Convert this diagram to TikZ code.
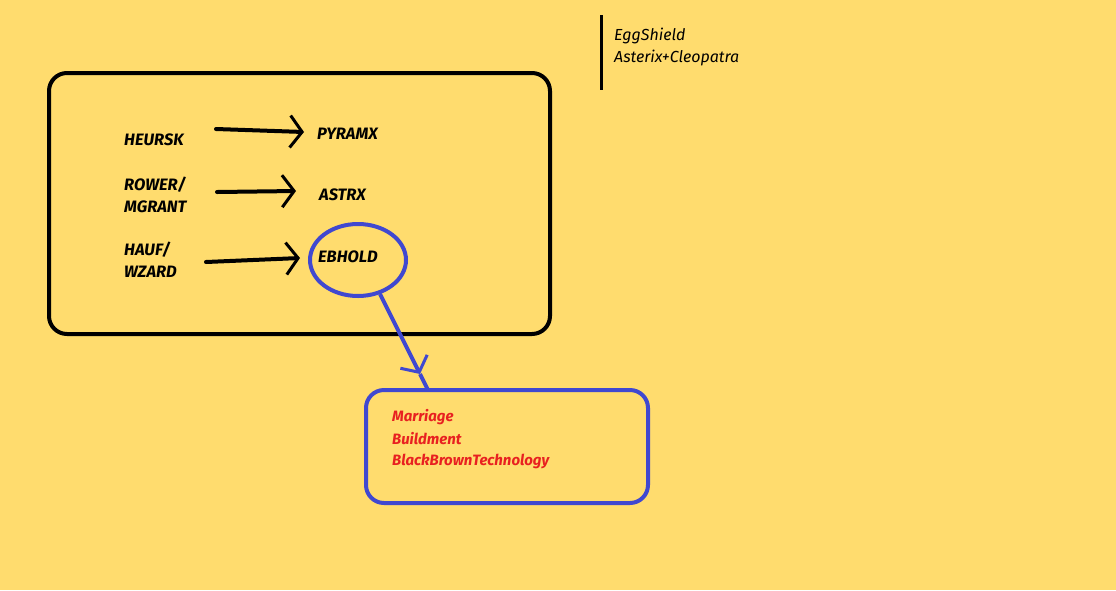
\documentclass[tikz,border=0pt]{standalone}
\usepackage{fontspec}
\setmainfont{Fira Sans}
\usetikzlibrary{arrows.meta,shapes.geometric}
\definecolor{bg}{RGB}{255,220,110}
\definecolor{pen}{RGB}{64,72,208}
\definecolor{redtxt}{RGB}{232,32,32}
\tikzset{
  lbl/.style={anchor=west,inner sep=0pt,font=\fontsize{16.5}{18}\selectfont\bfseries\itshape},
  note/.style={anchor=west,inner sep=0pt,font=\fontsize{16}{18}\selectfont\itshape},
  rednote/.style={anchor=west,inner sep=0pt,text=redtxt,font=\fontsize{15}{18}\selectfont\bfseries\itshape},
  blackarrow/.style={line width=4pt,line cap=round,-{Straight Barb[length=12pt,width=32pt,line width=3pt]}},
  box/.style={rounded corners=18pt,line width=4pt},
}
\begin{document}
\begin{tikzpicture}[x=1pt,y=-1pt]
\useasboundingbox (0,0) rectangle (1116,590);
\fill[bg] (0,0) rectangle (1116,590);
% header
\draw[line width=3pt] (601,15) coordinate (vt) -- (601,90) coordinate (vb);
\node[note] (egg) at (614,36) {EggShield};
\node[note] (ast) at (614,58) {Asterix+Cleopatra};
% main box
\draw[box] (49,73) rectangle (550,334);
\node[lbl] (heursk) at (124,140) {HEURSK};
\node[lbl] (rower) at (124,185) {ROWER/};
\node[lbl] (mgrant) at (124,207) {MGRANT};
\node[lbl] (hauf) at (124,250) {HAUF/};
\node[lbl] (wzard) at (124,272) {WZARD};
\node[lbl] (pyramx) at (317,134) {PYRAMX};
\node[lbl] (astrx) at (319,195) {ASTRX};
\node[lbl] (ebhold) at (318,257) {EBHOLD};
\coordinate (a1s) at (216,129); \coordinate (a1e) at (304,132);
\coordinate (a2s) at (217,192); \coordinate (a2e) at (296,191);
\coordinate (a3s) at (206,262); \coordinate (a3e) at (300,258);
\draw[blackarrow] (a1s) -- (a1e);
\draw[blackarrow] (a2s) -- (a2e);
\draw[blackarrow] (a3s) -- (a3e);
% ellipse
\node[draw=pen,line width=4pt,ellipse,minimum width=96pt,minimum height=72pt,inner sep=0pt] (ell) at (358,260) {};
% blue box
\draw[box,draw=pen] (366,390) rectangle (648,503);
\node[rednote] (m1) at (392,417) {Marriage};
\node[rednote] (m2) at (392,439) {Buildment};
\node[rednote] (m3) at (392,461) {BlackBrownTechnology};
% blue connector
\coordinate (bs) at (380,294);
\coordinate (bm) at (420,374);
\coordinate (be) at (428,390);
\draw[pen,line width=4pt,-{Straight Barb[length=12pt,width=30pt,line width=3pt]}] (bs) -- (bm);
\draw[pen,line width=4pt] (bm) -- (be);
\end{tikzpicture}
\end{document}
